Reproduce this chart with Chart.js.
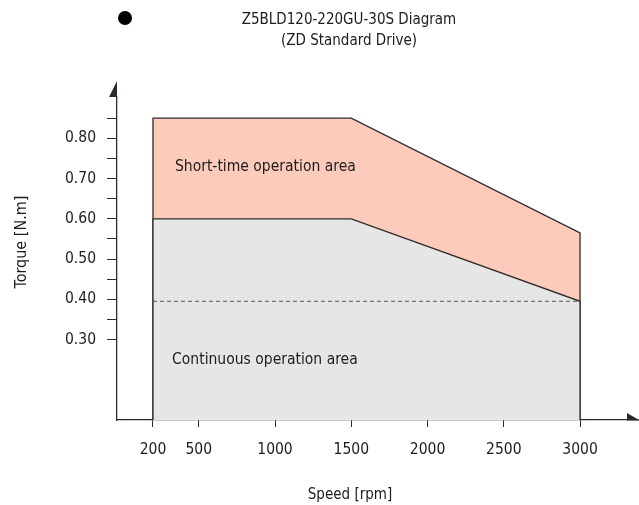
<!DOCTYPE html>
<html>
<head>
<meta charset="utf-8">
<script src="https://cdn.jsdelivr.net/npm/chart.js@4"></script>
<style>
  html, body { margin: 0; padding: 0; background: #fff; }
  #wrap { width: 639px; height: 505px; }
</style>
</head>
<body>
<div id="wrap"><canvas id="chartTorque"></canvas></div>
<script>
  // data
  var speedTicks = [200, 500, 1000, 1500, 2000, 2500, 3000];
  var torqueTicks = [0.30, 0.35, 0.40, 0.45, 0.50, 0.55, 0.60, 0.65, 0.70, 0.75, 0.80, 0.85];
  var speedPts = [200, 200, 1500, 3000, 3000];
  var shortTime = [0.10, 0.85, 0.85, 0.565, 0.10];
  var continuous = [0.10, 0.60, 0.60, 0.395, 0.10];
  var ratedSpeed = [200, 3000];
  var ratedTorque = [0.395, 0.395];

  var FONT = '"DejaVu Sans Condensed", "Liberation Sans Narrow", Roboto, sans-serif';
  var INK = '#2f2a2a';
  var TXT = '#1c1c1c';

  function toPts(xs, ys) {
    return xs.map(function (x, i) { return { x: x, y: ys[i] }; });
  }

  var decor = {
    id: 'decor',
    afterDraw: function (chart) {
      var c = chart.ctx, xs = chart.scales.x, ys = chart.scales.y, a = chart.chartArea;
      c.save();
      c.fillStyle = INK;
      // axis arrows (half heads)
      c.beginPath();
      c.moveTo(a.left, a.top - 16);
      c.lineTo(a.left - 8, a.top);
      c.lineTo(a.left, a.top);
      c.closePath();
      c.fill();
      c.beginPath();
      c.moveTo(a.right + 12, a.bottom);
      c.lineTo(a.right, a.bottom - 7);
      c.lineTo(a.right, a.bottom);
      c.closePath();
      c.fill();
      c.strokeStyle = INK;
      c.lineWidth = 1.3;
      c.beginPath();
      c.moveTo(a.right, a.bottom);
      c.lineTo(a.right + 12, a.bottom);
      c.stroke();

      // title
      c.fillStyle = '#000';
      c.beginPath();
      c.arc(125, 18, 7, 0, Math.PI * 2);
      c.fill();
      c.fillStyle = TXT;
      c.font = '15px ' + FONT;
      c.textAlign = 'center';
      c.textBaseline = 'middle';
      c.fillText('Z5BLD120-220GU-30S Diagram', 349, 20);
      c.fillText('(ZD Standard Drive)', 349, 41);

      // area labels
      c.textAlign = 'left';
      c.font = '15.5px ' + FONT;
      c.fillText('Short-time operation area', xs.getPixelForValue(344), ys.getPixelForValue(0.73));
      c.fillText('Continuous operation area', xs.getPixelForValue(325), ys.getPixelForValue(0.25));

      // axis titles
      c.font = '15px ' + FONT;
      c.textAlign = 'center';
      c.fillText('Speed [rpm]', 350, 495);
      c.font = '16px ' + FONT;
      c.translate(22, 242);
      c.rotate(-Math.PI / 2);
      c.fillText('Torque [N.m]', 0, 0);
      c.restore();
    }
  };

  new Chart(document.getElementById('chartTorque'), {
    type: 'line',
    data: {
      datasets: [
        {
          label: 'Continuous',
          data: toPts(speedPts, continuous),
          backgroundColor: '#e6e6e6',
          borderColor: INK,
          borderWidth: 1.3,
          fill: 'start',
          pointRadius: 0,
          tension: 0,
          order: 2
        },
        {
          label: 'Short-time',
          data: toPts(speedPts, shortTime),
          backgroundColor: '#fccbbc',
          borderColor: INK,
          borderWidth: 1.3,
          fill: 'start',
          pointRadius: 0,
          tension: 0,
          order: 3
        },
        {
          label: 'Rated',
          data: toPts(ratedSpeed, ratedTorque),
          borderColor: '#555',
          borderWidth: 1,
          borderDash: [4, 3],
          fill: false,
          pointRadius: 0,
          order: 1
        }
      ]
    },
    options: {
      responsive: true,
      maintainAspectRatio: false,
      animation: false,
      layout: { padding: { top: 97, right: 12, left: 0, bottom: 0 } },
      scales: {
        x: {
          type: 'linear',
          min: -36,
          max: 3308,
          afterBuildTicks: function (s) {
            s.ticks = speedTicks.map(function (v) { return { value: v }; });
          },
          afterFit: function (s) { s.height = 85; },
          ticks: {
            autoSkip: false,
            maxRotation: 0,
            padding: 14,
            color: TXT,
            font: { family: FONT, size: 15.5 },
            callback: function (v) { return String(v); }
          },
          grid: { drawOnChartArea: false, tickLength: 7, color: INK },
          border: { color: INK, width: 1.3 }
        },
        y: {
          min: 0.10,
          max: 0.9027,
          afterBuildTicks: function (s) {
            s.ticks = torqueTicks.map(function (v) { return { value: v }; });
          },
          afterFit: function (s) { s.width = 117; },
          ticks: {
            autoSkip: false,
            padding: 11,
            color: TXT,
            font: { family: FONT, size: 15.5 },
            callback: function (v) {
              var k = Math.round(v * 100);
              return k % 10 === 0 ? (k / 100).toFixed(2) : '';
            }
          },
          grid: { drawOnChartArea: false, tickLength: 10, color: INK },
          border: { color: INK, width: 1.3 }
        }
      },
      plugins: {
        legend: { display: false },
        tooltip: { enabled: false }
      }
    },
    plugins: [decor]
  });
</script>
</body>
</html>
